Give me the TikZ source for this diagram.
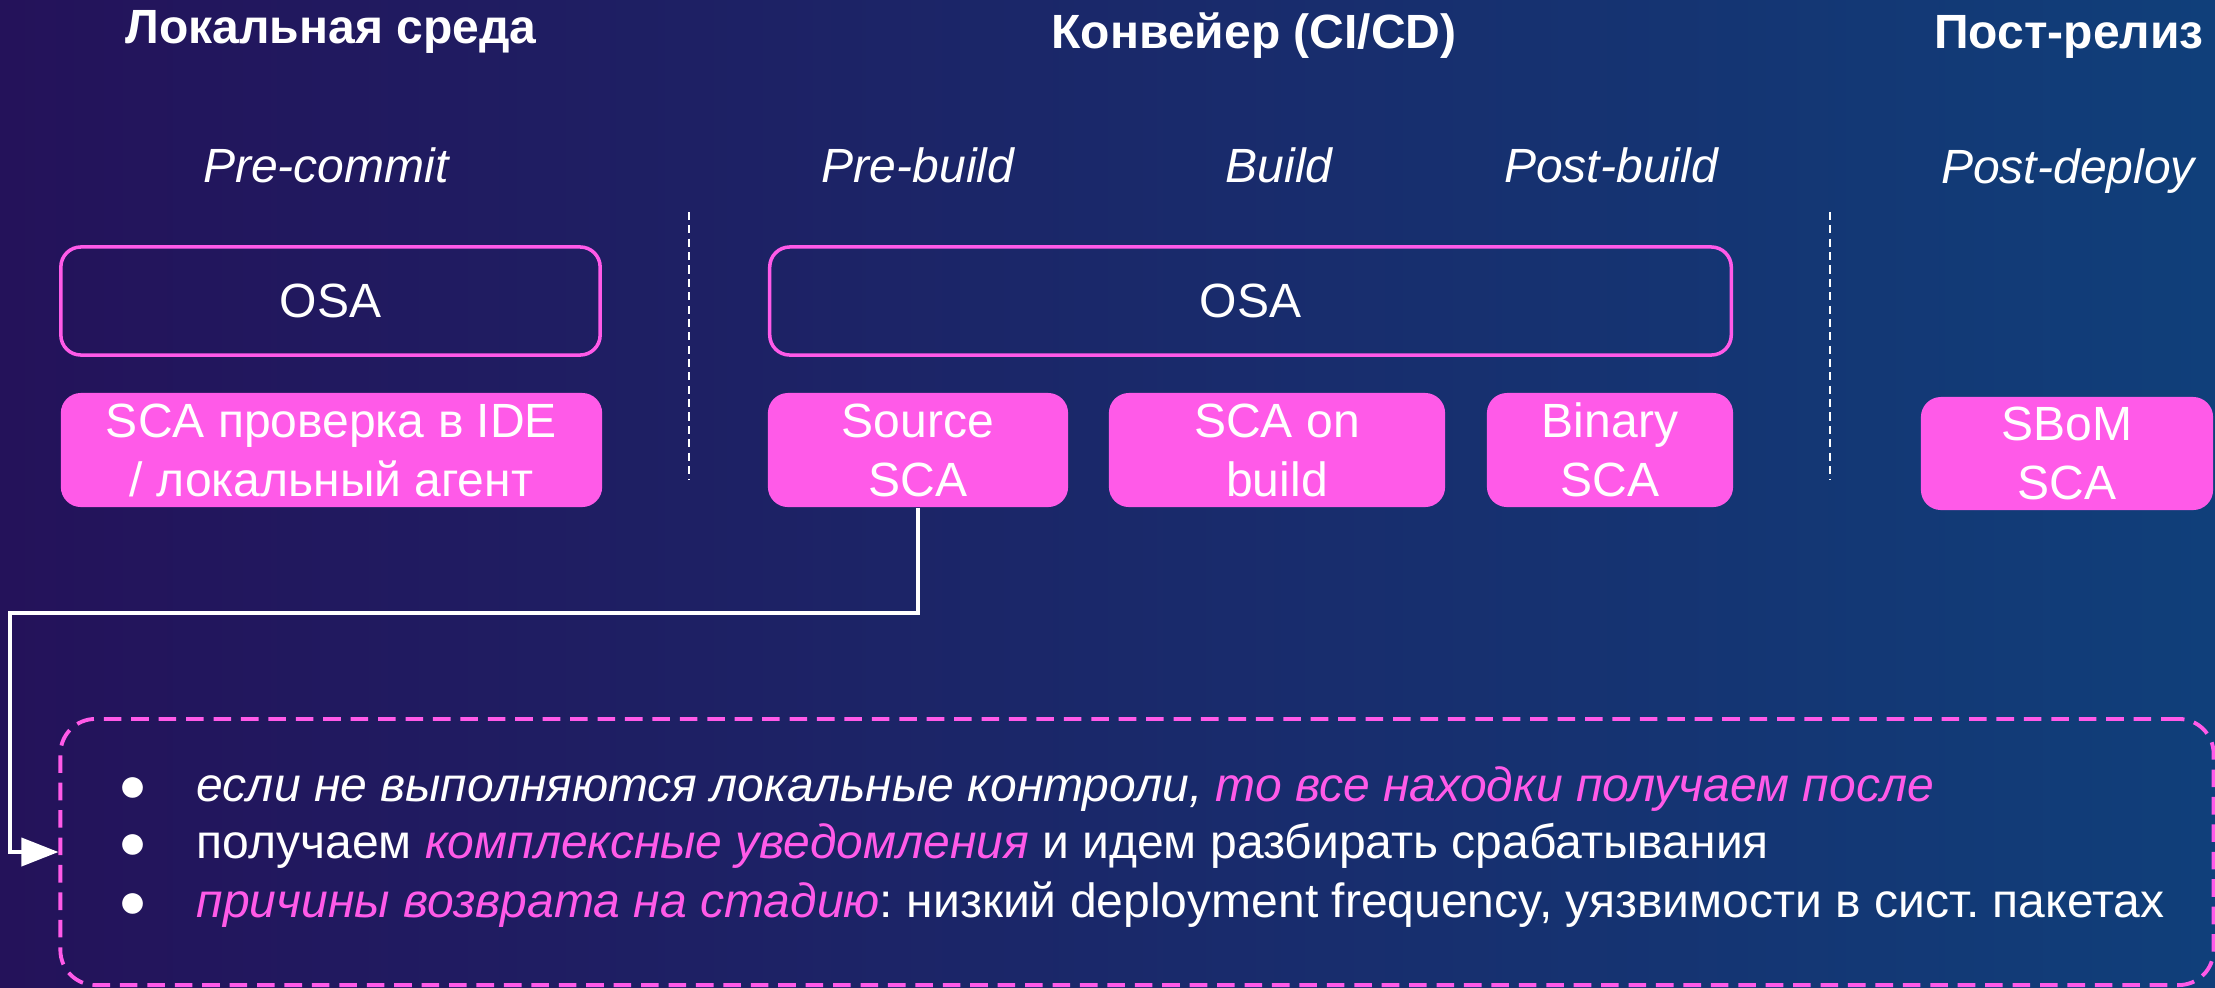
\documentclass[tikz,border=0pt]{standalone}
\usepackage{fontspec}
\setmainfont{Liberation Sans}
\usetikzlibrary{arrows.meta}
\frenchspacing

\definecolor{neon}{HTML}{FF5AE8}
\definecolor{bgleft}{HTML}{24125A}
\definecolor{bgright}{HTML}{103F7A}
\newcommand{\slide}{\fontsize{13.66}{16.8}\selectfont}
\newcommand{\bul}{\makebox[0.78cm][l]{●}}

\begin{document}
\begin{tikzpicture}[x=0.01cm,y=-0.01cm,font=\slide,text=white]
\tikzstyle{stage}=[font=\slide\bfseries, anchor=base]
\tikzstyle{phase}=[font=\slide\itshape, anchor=base]
\tikzstyle{osa}=[shape=rectangle, draw=neon, line width=1pt, rounded corners=0.2cm, minimum height=1.08cm]
\tikzstyle{sca}=[shape=rectangle, fill=neon, rounded corners=0.2cm, minimum height=1.14cm, align=center, inner sep=0pt]
\tikzstyle{sep}=[white, line width=0.6pt, dash pattern=on 2.3pt off 1.5pt]
\tikzstyle{item}=[anchor=base west, inner sep=0pt]

\shade[left color=bgleft, right color=bgright] (0,0) rectangle (2215,987);
\useasboundingbox (0,0) rectangle (2215,987);

\node[stage] (loc)  at (331,43)  {Локальная среда};
\node[stage] (ci)   at (1254,48) {Конвейер (CI/CD)};
\node[stage] (post) at (2069,48) {Пост-релиз};

\node[phase] (precommit)  at (326,182)  {Pre-commit};
\node[phase] (prebuild)   at (918,182)  {Pre-build};
\node[phase] (build)      at (1279,182) {Build};
\node[phase] (postbuild)  at (1611,182) {Post-build};
\node[phase] (postdeploy) at (2068,183) {Post-deploy};

\coordinate (s1a) at (689,212);
\coordinate (s1b) at (689,480);
\coordinate (s2a) at (1830,212);
\coordinate (s2b) at (1830,480);
\draw[sep] (s1a) -- (s1b);
\draw[sep] (s2a) -- (s2b);

\node[osa, minimum width=5.39cm] (osaloc) at (330.5,301)  {OSA};
\node[osa, minimum width=9.61cm] (osaci)  at (1250.5,301) {OSA};

\node[sca, minimum width=5.41cm] (idesca)  at (331.5,450) {SCA проверка в IDE\\/ локальный агент};
\node[sca, minimum width=3.00cm] (srcsca)  at (918,450)   {Source\\SCA};
\node[sca, minimum width=3.36cm] (bldsca)  at (1277,450)  {SCA on\\build};
\node[sca, minimum width=2.46cm] (binsca)  at (1610,450)  {Binary\\SCA};
\node[sca, minimum width=2.92cm, minimum height=1.13cm] (sbomsca) at (2067,453.5) {SBoM\\SCA};

\node[draw=neon, line width=1.1pt, dash pattern=on 5pt off 2.8pt, rounded corners=0.35cm,
      minimum width=21.52cm, minimum height=2.66cm, inner sep=0pt] (notes) at (1137,852) {};

\node[item] (l1) at (118,801) {\bul\textit{если не выполняются локальные контроли, \textcolor{neon}{то все находки получаем после}}};
\node[item] (l2) at (118,858) {\bul получаем \textcolor{neon}{\textit{комплексные уведомления}} и идем разбирать срабатывания};
\node[item] (l3) at (118,917) {\bul\textcolor{neon}{\textit{причины возврата на стадию}}: низкий deployment frequency, уязвимости в сист. пакетах};

\coordinate (hook) at (10,613);
\draw[white, line width=1.1pt, -{Triangle[length=0.37cm,width=0.28cm]}] (srcsca.south) |- (hook) |- (notes.west);
\end{tikzpicture}
\end{document}
